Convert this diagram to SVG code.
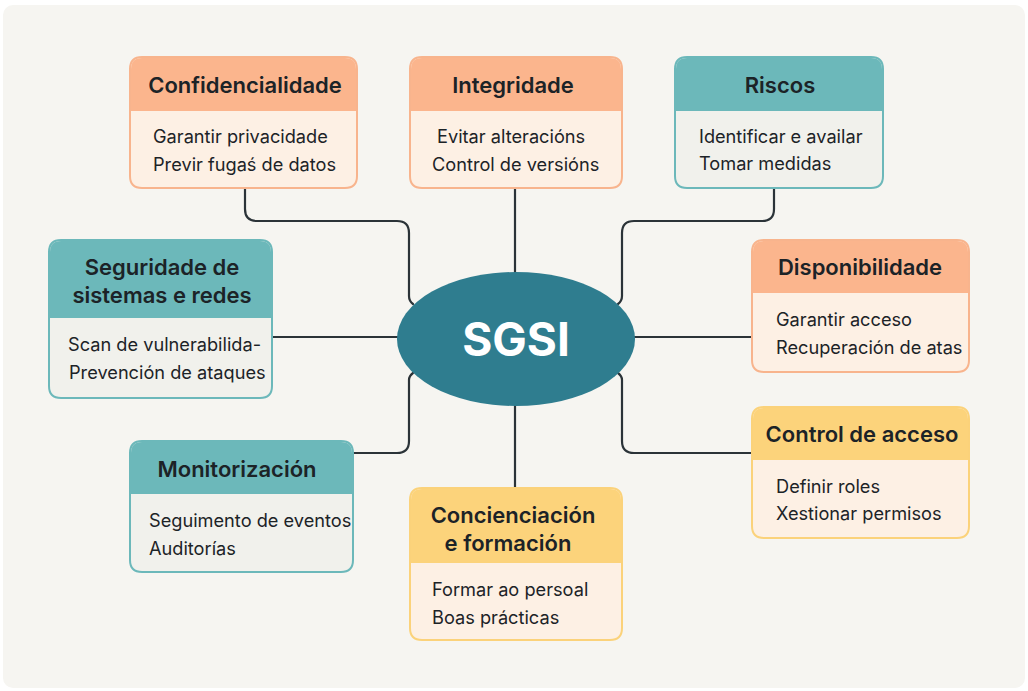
<svg xmlns="http://www.w3.org/2000/svg" width="1028" height="691" viewBox="0 0 1028 691">
<defs>
<style>
.t{font-family:Inter,"Noto Sans","Liberation Sans",sans-serif;font-weight:600;font-size:22px;fill:#1c2327;text-anchor:middle}
.b{font-family:Inter,"Noto Sans","Liberation Sans",sans-serif;font-weight:400;font-size:18.2px;fill:#1c2327}
.con{fill:none;stroke:#2b3338;stroke-width:2.2;stroke-linecap:round}
.or .bd{fill:#fdf0e4;stroke:#f8b48d;stroke-width:2}
.or .hd{fill:#fbb58d}
.te .bd{fill:#f1f1ec;stroke:#6cb8ba;stroke-width:2}
.te .hd{fill:#6cb8ba}
.ye .bd{fill:#fdf0e4;stroke:#fbd27a;stroke-width:2}
.ye .hd{fill:#fcd37b}
</style>
</defs>
<rect x="0" y="0" width="1028" height="691" fill="#ffffff"/>
<rect x="3" y="5" width="1022" height="683" rx="10" fill="#f6f5f1"/>
<g id="connectors">
<path class="con" d="M245 189 V209 Q245 221 257 221 H397 Q409 221 409 233 V296 Q409 301 413 304"/>
<path class="con" d="M515 189 V272"/>
<path class="con" d="M774 189 V209 Q774 221 762 221 H634 Q622 221 622 233 V296 Q622 301 618 304"/>
<path class="con" d="M272 337 H398"/>
<path class="con" d="M634 337 H752"/>
<path class="con" d="M353 453 H397 Q409 453 409 441 V380 Q409 376 413 373"/>
<path class="con" d="M515 406 V488"/>
<path class="con" d="M752 453 H634 Q622 453 622 441 V380 Q622 376 618 373"/>
</g>
<g id="sgsi">
<ellipse cx="516" cy="339" rx="119" ry="67" fill="#2f7d8f"/>
<text x="516" y="356" font-family="Inter,'Liberation Sans',sans-serif" font-weight="700" font-size="46" fill="#ffffff" text-anchor="middle">SGSI</text>
</g>
<g id="confidencialidade" class="or">
<path class="bd" d="M142 57 H345 Q357 57 357 69 V176 Q357 188 345 188 H142 Q130 188 130 176 V69 Q130 57 142 57 Z"/>
<path class="hd" d="M131 111 V69 Q131 58 142 58 H345 Q356 58 356 69 V111 Z"/>
<text class="t" x="245" y="93">Confidencialidade</text>
<text class="b" x="153" y="143">Garantir privacidade</text>
<text class="b" x="153" y="171">Previr fugaś de datos</text>
</g>
<g id="integridade" class="or">
<path class="bd" d="M422 57 H610 Q622 57 622 69 V176 Q622 188 610 188 H422 Q410 188 410 176 V69 Q410 57 422 57 Z"/>
<path class="hd" d="M411 111 V69 Q411 58 422 58 H610 Q621 58 621 69 V111 Z"/>
<text class="t" x="513" y="93">Integridade</text>
<text class="b" x="437" y="143">Evitar alteracións</text>
<text class="b" x="432" y="171">Control de versións</text>
</g>
<g id="riscos" class="te">
<path class="bd" d="M687 57 H871 Q883 57 883 69 V176 Q883 188 871 188 H687 Q675 188 675 176 V69 Q675 57 687 57 Z"/>
<path class="hd" d="M676 111 V69 Q676 58 687 58 H871 Q882 58 882 69 V111 Z"/>
<text class="t" x="780" y="93">Riscos</text>
<text class="b" x="699" y="143">Identificar e availar</text>
<text class="b" x="699" y="170">Tomar medidas</text>
</g>
<g id="seguridade" class="te">
<path class="bd" d="M61 240 H260 Q272 240 272 252 V386 Q272 398 260 398 H61 Q49 398 49 386 V252 Q49 240 61 240 Z"/>
<path class="hd" d="M50 318 V252 Q50 241 61 241 H260 Q271 241 271 252 V318 Z"/>
<text class="t" x="162" y="275">Seguridade de</text>
<text class="t" x="162" y="303">sistemas e redes</text>
<text class="b" x="68" y="351">Scan de vulnerabilida-</text>
<text class="b" x="69" y="379">Prevención de ataques</text>
</g>
<g id="disponibilidade" class="or">
<path class="bd" d="M764 240 H957 Q969 240 969 252 V360 Q969 372 957 372 H764 Q752 372 752 360 V252 Q752 240 764 240 Z"/>
<path class="hd" d="M753 293 V252 Q753 241 764 241 H957 Q968 241 968 252 V293 Z"/>
<text class="t" x="860" y="275">Disponibilidade</text>
<text class="b" x="776" y="326">Garantir acceso</text>
<text class="b" x="776" y="354">Recuperación de atas</text>
</g>
<g id="monitorizacion" class="te">
<path class="bd" d="M142 441 H341 Q353 441 353 453 V560 Q353 572 341 572 H142 Q130 572 130 560 V453 Q130 441 142 441 Z"/>
<path class="hd" d="M131 494 V453 Q131 442 142 442 H341 Q352 442 352 453 V494 Z"/>
<text class="t" x="237" y="477">Monitorización</text>
<text class="b" x="149" y="527">Seguimento de eventos</text>
<text class="b" x="149" y="555">Auditorías</text>
</g>
<g id="concienciacion" class="ye">
<path class="bd" d="M422 488 H610 Q622 488 622 500 V628 Q622 640 610 640 H422 Q410 640 410 628 V500 Q410 488 422 488 Z"/>
<path class="hd" d="M411 563 V500 Q411 489 422 489 H610 Q621 489 621 500 V563 Z"/>
<text class="t" x="513" y="523">Concienciación</text>
<text class="t" x="508" y="551">e formación</text>
<text class="b" x="432" y="596">Formar ao persoal</text>
<text class="b" x="432" y="624">Boas prácticas</text>
</g>
<g id="control" class="ye">
<path class="bd" d="M764 407 H957 Q969 407 969 419 V526 Q969 538 957 538 H764 Q752 538 752 526 V419 Q752 407 764 407 Z"/>
<path class="hd" d="M753 460 V419 Q753 408 764 408 H957 Q968 408 968 419 V460 Z"/>
<text class="t" x="862" y="442">Control de acceso</text>
<text class="b" x="776" y="493">Definir roles</text>
<text class="b" x="776" y="520">Xestionar permisos</text>
</g>
</svg>
